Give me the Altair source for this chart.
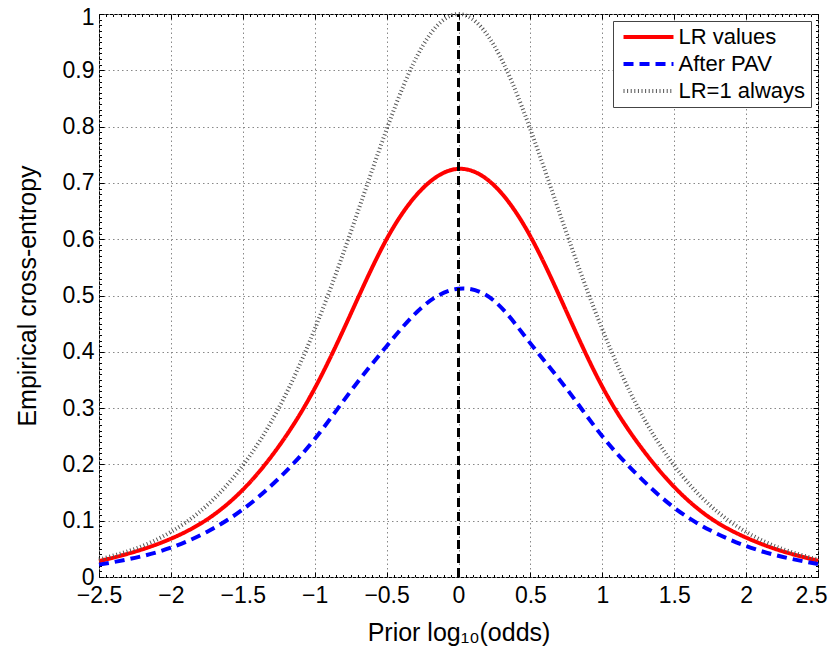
import altair as alt
import pandas as pd

# ---- data ----
x_vals = [-2.5, -2.25, -2.0, -1.75, -1.5, -1.25, -1.0, -0.75, -0.5, -0.25, 0.0,
          0.25, 0.5, 0.75, 1.0, 1.25, 1.5, 1.75, 2.0, 2.25, 2.5]
lr_values = [0.028, 0.045, 0.068, 0.102, 0.155, 0.232, 0.335, 0.467, 0.600, 0.690, 0.725,
             0.695, 0.605, 0.472, 0.338, 0.237, 0.160, 0.105, 0.070, 0.046, 0.029]
after_pav = [0.022, 0.034, 0.052, 0.080, 0.120, 0.175, 0.245, 0.330, 0.410, 0.480, 0.512,
             0.490, 0.415, 0.335, 0.250, 0.180, 0.123, 0.083, 0.055, 0.036, 0.023]
lr_one = [0.031, 0.050, 0.080, 0.127, 0.198, 0.300, 0.440, 0.612, 0.795, 0.943, 1.000,
          0.943, 0.795, 0.612, 0.440, 0.300, 0.198, 0.127, 0.080, 0.050, 0.031]

series_names = ["LR values", "After PAV", "LR=1 always"]
series_colors = ["#ff0000", "#0000ff", "#555555"]
series_dashes = [[1, 0], [10, 6], [1, 2.6]]
series_widths = [4, 4, 2]

x_ticks = [-2.5, -2, -1.5, -1, -0.5, 0, 0.5, 1, 1.5, 2, 2.5]
y_ticks = [0, 0.1, 0.2, 0.3, 0.4, 0.5, 0.6, 0.7, 0.8, 0.9, 1]
x_minor = [round(-2.5 + 0.05 * i, 2) for i in range(101)]
y_minor = [round(0.01 * i, 2) for i in range(101)]

vline_x = [0.0]
vline_y = [0.0]
vline_y2 = [1.0]

rows = []
for name, ys in zip(series_names, [lr_values, after_pav, lr_one]):
    for xv, yv in zip(x_vals, ys):
        rows.append({"series": name, "x": xv, "y": yv})
df = pd.DataFrame(rows)
vdf = pd.DataFrame({"x": vline_x, "y": vline_y, "y2": vline_y2})

W, H = 719, 563
FONT = "Liberation Sans"

xscale = alt.Scale(domain=[-2.5, 2.5], nice=False, zero=False)
yscale = alt.Scale(domain=[0, 1], nice=False, zero=False)

legend = alt.Legend(
    title=None, orient="none", legendX=514, legendY=7,
    symbolType="M-2.94,0H2.94", symbolSize=289, symbolOffset=19.5,
    labelFontSize=22, labelFont=FONT, labelColor="black",
    padding=5, rowPadding=5, labelOffset=19,
    strokeColor="#444444", fillColor="white", cornerRadius=0, labelLimit=0,
)

main_x_axis = alt.Axis(
    values=x_ticks, format="~g", title="Prior log₁₀(odds)",
    grid=True, gridDash=[1.5, 3], gridColor="#888888", gridOpacity=1, gridWidth=1,
    domain=False, ticks=False, labelFlush=False, labelOverlap=False,
    labelFontSize=23, labelPadding=7, labelColor="black",
    labelOffset=alt.ConditionalAxisNumber(
        condition={"test": "datum.value == 2.5", "value": -7}, value=0),
    titleFontSize=25, titlePadding=13, titleFontWeight="normal", titleColor="black",
)
main_y_axis = alt.Axis(
    values=y_ticks, format="~g", title="Empirical cross-entropy",
    grid=True, gridDash=[1.5, 3], gridColor="#888888", gridOpacity=1, gridWidth=1,
    domain=False, ticks=False, labelFlush=False, labelOverlap=False,
    labelFontSize=23, labelPadding=5, labelColor="black",
    labelOffset=alt.ConditionalAxisNumber(
        condition={"test": "datum.value == 1", "value": 3}, value=0),
    titleFontSize=25, titlePadding=22, titleFontWeight="normal", titleColor="black",
)


def tick_axis(orient, values, dash):
    return alt.Axis(orient=orient, values=values, labels=False, ticks=False, domain=False,
                    title=None, grid=True, gridDash=dash, gridColor="black",
                    gridOpacity=1, gridWidth=1)


lines = alt.Chart(df).mark_line(interpolate="natural").encode(
    x=alt.X("x:Q", scale=xscale, axis=main_x_axis),
    y=alt.Y("y:Q", scale=yscale, axis=main_y_axis),
    color=alt.Color("series:N", scale=alt.Scale(domain=series_names, range=series_colors),
                    legend=legend, sort=series_names),
    strokeDash=alt.StrokeDash("series:N", scale=alt.Scale(domain=series_names, range=series_dashes),
                              legend=legend, sort=series_names),
    strokeWidth=alt.StrokeWidth("series:N", scale=alt.Scale(domain=series_names, range=series_widths),
                                legend=legend, sort=series_names),
    order=alt.Order("x:Q"),
)

rule = alt.Chart(vdf).mark_rule(color="black", strokeWidth=3, strokeDash=[9, 5]).encode(
    x=alt.X("x:Q", scale=xscale, axis=tick_axis("top", x_ticks, [5, H - 10])),
    y=alt.Y("y:Q", scale=yscale, axis=tick_axis("right", y_ticks, [5, W - 10])),
    y2="y2:Q",
)

minor = alt.Chart(vdf).mark_point(opacity=0).encode(
    x=alt.X("x:Q", scale=xscale, axis=tick_axis("top", x_minor, [2.5, H - 5])),
    y=alt.Y("y:Q", scale=yscale, axis=tick_axis("right", y_minor, [2.5, W - 5])),
)

chart = alt.layer(lines, rule, minor).resolve_axis(
    x="independent", y="independent"
).properties(
    width=W, height=H,
    autosize=alt.AutoSizeParams(type="none"),
    padding={"left": 91, "top": 6, "right": 10, "bottom": 71},
).configure_view(
    stroke="black", strokeWidth=1
).configure_axis(
    labelFont=FONT, titleFont=FONT
).configure_legend(
    labelFont=FONT
)

chart.save("out.html", embed_options={"renderer": "svg", "actions": False})
